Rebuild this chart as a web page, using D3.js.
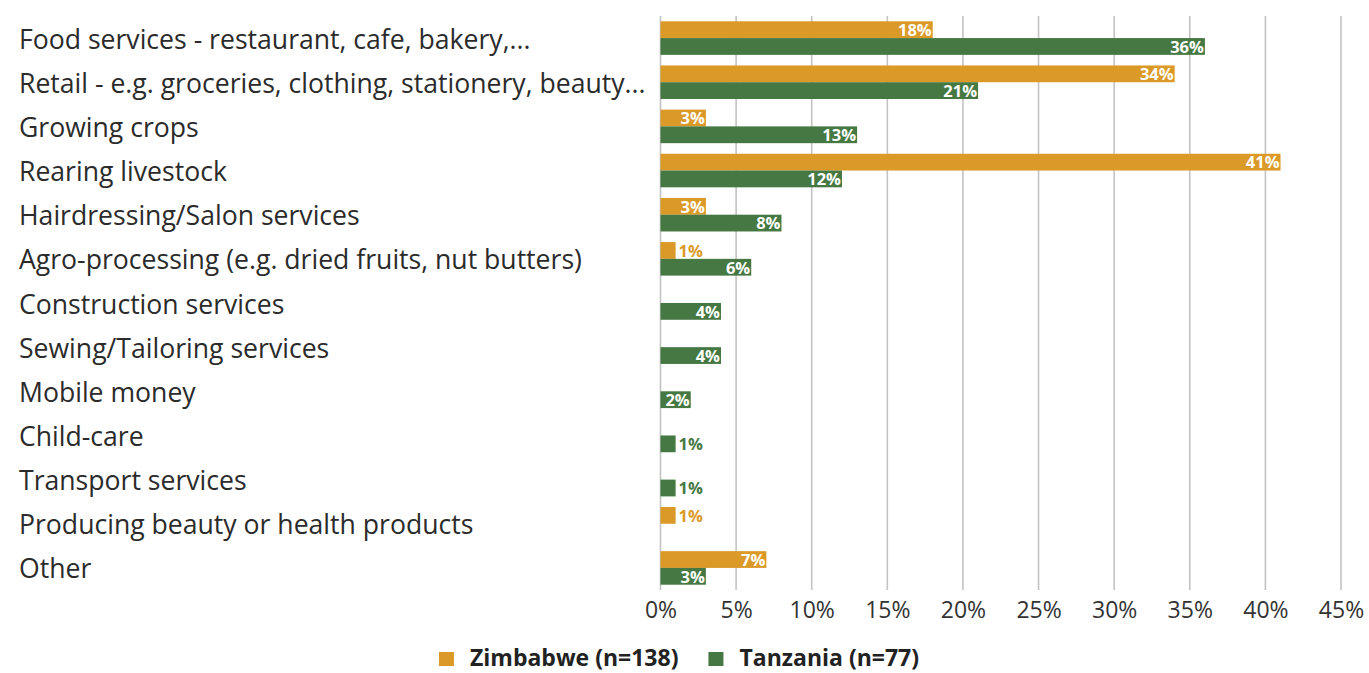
<!DOCTYPE html>
<html>
<head>
<meta charset="utf-8">
<script src="https://cdn.jsdelivr.net/npm/d3@7"></script>
<style>
  html, body { margin: 0; padding: 0; background: #fff; }
  svg { display: block; font-family: "Open Sans", Lato, sans-serif; }
</style>
</head>
<body>
<svg id="chart" width="1369" height="673"></svg>
<script>
const categories = [
  "Food services - restaurant, cafe, bakery,...",
  "Retail - e.g. groceries, clothing, stationery, beauty...",
  "Growing crops",
  "Rearing livestock",
  "Hairdressing/Salon services",
  "Agro-processing (e.g. dried fruits, nut butters)",
  "Construction services",
  "Sewing/Tailoring services",
  "Mobile money",
  "Child-care",
  "Transport services",
  "Producing beauty or health products",
  "Other"
];
const seriesNames = ["Zimbabwe (n=138)", "Tanzania (n=77)"];
const zimbabwe = [18, 34, 3, 41, 3, 1, null, null, null, null, null, 1, 7];
const tanzania = [36, 21, 13, 12, 8, 6, 4, 4, 2, 1, 1, null, 3];
const tickValues = [0, 5, 10, 15, 20, 25, 30, 35, 40, 45];
const colors = ["#DB9A28", "#467843"];

const svg = d3.select("#chart");
const plot = { left: 660.5, right: 1341, top: 16, bottom: 590 };

const x = d3.scaleLinear().domain([0, 45]).range([plot.left, plot.right]);
const y = d3.scaleBand().domain(categories).range([plot.top, plot.bottom])
  .paddingInner(0.24).paddingOuter(0.12);
const ySub = d3.scaleBand().domain(seriesNames).range([0, y.bandwidth()]);

// gridlines
svg.append("g").selectAll("line").data(tickValues).join("line")
  .attr("x1", d => x(d)).attr("x2", d => x(d))
  .attr("y1", plot.top).attr("y2", plot.bottom)
  .attr("stroke", "#c3c3c3").attr("stroke-width", 1.6);

// x axis labels
const xAxis = d3.axisBottom(x).tickValues(tickValues).tickSize(0).tickPadding(0)
  .tickFormat(d => d + "%");
const gx = svg.append("g").attr("transform", `translate(0, 618.3)`).call(xAxis);
gx.select(".domain").remove();
gx.selectAll("text").attr("font-size", 23).attr("fill", "#333")
  .attr("font-family", "'Open Sans', sans-serif").attr("dy", 0).attr("y", 0);

// category labels
svg.append("g").selectAll("text").data(categories).join("text")
  .attr("x", 19)
  .attr("y", d => y(d) + y.bandwidth() / 2 + 10.5)
  .attr("font-size", 26.6).attr("fill", "#2b2b2b")
  .text(d => d);

// bars
const rows = categories.map((c, i) => ({
  cat: c,
  vals: [zimbabwe[i], tanzania[i]]
}));
const barData = [];
rows.forEach(r => r.vals.forEach((v, s) => {
  if (v !== null) barData.push({ cat: r.cat, s, v });
}));

const gBars = svg.append("g");
gBars.selectAll("rect").data(barData).join("rect")
  .attr("x", x(0))
  .attr("y", d => y(d.cat) + ySub(seriesNames[d.s]))
  .attr("width", d => x(d.v) - x(0))
  .attr("height", ySub.bandwidth())
  .attr("fill", d => colors[d.s]);

gBars.selectAll("text").data(barData).join("text")
  .attr("x", d => d.v >= 2 ? x(d.v) - 1 : x(d.v) + 3)
  .attr("y", d => y(d.cat) + ySub(seriesNames[d.s]) + ySub.bandwidth() / 2 + 6.3)
  .attr("text-anchor", d => d.v >= 2 ? "end" : "start")
  .attr("font-size", 16.5).attr("font-weight", "bold")
  .attr("fill", d => d.v >= 2 ? "#fff" : colors[d.s])
  .text(d => d.v + "%");

// legend
const legend = svg.append("g");
let cx = 0;
seriesNames.forEach((name, i) => {
  const g = legend.append("g");
  g.append("rect").attr("x", 0).attr("y", -14).attr("width", 15).attr("height", 14)
    .attr("fill", colors[i]);
  const t = g.append("text").attr("x", 31).attr("y", 0)
    .attr("font-size", 23).attr("font-weight", "bold").attr("fill", "#222")
    .text(name);
  const w = 31 + t.node().getComputedTextLength();
  g.attr("transform", `translate(${cx},0)`);
  cx += w + 30;
});
const totalW = cx - 30;
legend.attr("transform", `translate(${679 - totalW / 2}, 666)`);
</script>
</body>
</html>
